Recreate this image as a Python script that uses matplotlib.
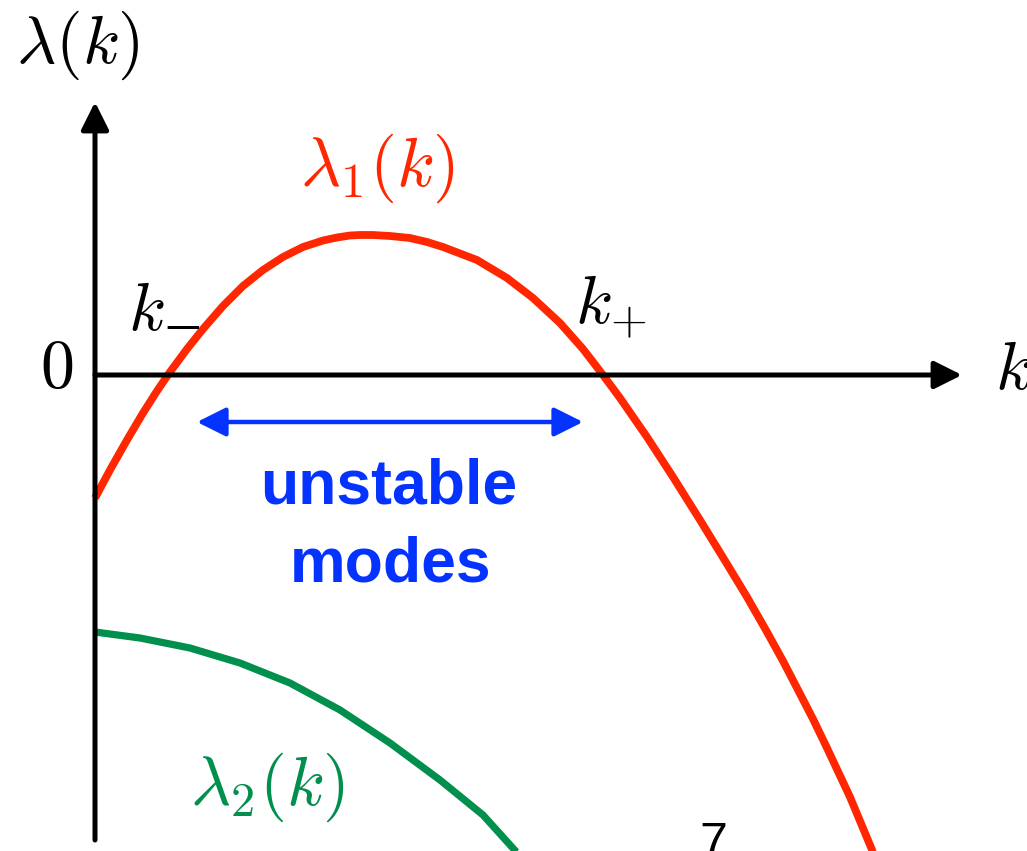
import matplotlib
matplotlib.use("Agg")
import matplotlib.pyplot as plt

plt.rcParams['mathtext.fontset'] = 'cm'

# values (k along the axis, lambda up)
k_red = [0, 0.15, 0.32, 0.48, 0.62, 0.75, 0.92, 1.08, 1.28, 1.48, 1.68, 1.88, 2.08, 2.28,
         2.42, 2.55, 2.65, 2.78, 2.95, 3.15, 3.32, 3.48, 3.82, 4.12, 4.38, 4.65, 4.88, 5.08,
         5.25, 5.52, 5.78, 6.05, 6.32, 6.52, 6.72, 6.88, 7.02, 7.18, 7.32, 7.55, 7.80]
lam_red = [-1.23, -0.95, -0.65, -0.38, -0.16, 0.03, 0.26, 0.46, 0.69, 0.89, 1.05, 1.18,
           1.28, 1.345, 1.375, 1.395, 1.40, 1.40, 1.39, 1.37, 1.33, 1.28, 1.15, 0.97, 0.77,
           0.52, 0.26, 0, -0.23, -0.62, -1.02, -1.45, -1.89, -2.22, -2.57, -2.86, -3.13,
           -3.44, -3.73, -4.22, -4.82]

k_green = [0, 0.45, 0.95, 1.45, 1.95, 2.45, 2.95, 3.45, 3.88, 4.25]
lam_green = [-2.57, -2.63, -2.73, -2.88, -3.08, -3.35, -3.68, -4.05, -4.40, -4.81]

band = [1.02, 4.88]   # ends of the "unstable modes" arrow
band_y = -0.47

red = '#FF2600'
green = '#008F4C'
blue = '#0433FF'

fig = plt.figure(figsize=(10.27, 8.51), dpi=100)
ax = fig.add_axes([0, 0, 1, 1])
ax.set_xlim(-0.95, 9.32)
ax.set_ylim(-4.76, 3.75)
ax.axis('off')

# axes with arrow heads
ax.annotate('', xy=(0, 2.73), xytext=(0, -4.65),
            arrowprops=dict(arrowstyle='-|>,head_length=0.4,head_width=0.2', lw=3.6,
                            color='black', mutation_scale=42, shrinkA=0, shrinkB=0))
ax.annotate('', xy=(8.67, 0), xytext=(0, 0),
            arrowprops=dict(arrowstyle='-|>,head_length=0.4,head_width=0.2', lw=3.6,
                            color='black', mutation_scale=42, shrinkA=0, shrinkB=0))

# curves
ax.plot(k_red, lam_red, color=red, lw=5.6, solid_joinstyle='round', solid_capstyle='butt')
ax.plot(k_green, lam_green, color=green, lw=5.2, solid_joinstyle='round', solid_capstyle='butt')

# unstable band arrow
ax.annotate('', xy=(band[1], band_y), xytext=(band[0], band_y),
            arrowprops=dict(arrowstyle='<|-|>,head_length=0.4,head_width=0.2', lw=3.2,
                            color=blue, mutation_scale=44, shrinkA=0, shrinkB=0))

# labels
ax.text(-0.17, 3.30, r'$\lambda(k)$', fontsize=49, ha='center', va='center')
ax.text(-0.38, 0.07, r'$0$', fontsize=49, ha='center', va='center')
ax.text(9.0, 0.05, r'$k$', fontsize=49, ha='left', va='center')
# k_- : subscript minus drawn as its own text
ax.text(0.33, 0.45, r'$k$', fontsize=49, ha='left', va='baseline')
ax.text(0.88, 0.48, '\u2013', fontsize=44, family='Liberation Serif', ha='center', va='center')
ax.text(4.80, 0.52, r'$k_{+}$', fontsize=49, ha='left', va='baseline')
ax.text(2.82, 2.07, r'$\lambda_1(k)$', fontsize=50, ha='center', va='center', color=red)
ax.text(1.72, -4.12, r'$\lambda_2(k)$', fontsize=50, ha='center', va='center', color=green)

ax.text(2.94, -1.28, 'unstable', fontsize=45, fontweight='bold', family='Liberation Sans',
        color=blue, ha='center', va='baseline')
ax.text(2.96, -2.07, 'modes', fontsize=45, fontweight='bold', family='Liberation Sans',
        color=blue, ha='center', va='baseline')

ax.text(6.18, -4.83, '7', fontsize=36, family='Liberation Sans', ha='center', va='baseline')

fig.savefig('out.png', dpi=100)
